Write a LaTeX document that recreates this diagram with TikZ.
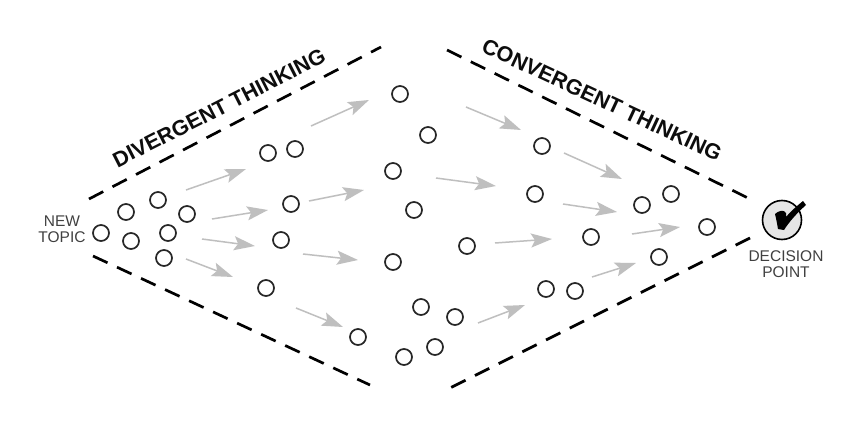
\documentclass[tikz,border=0pt]{standalone}
\usepackage{fontspec}
\setmainfont{Liberation Sans}
\usetikzlibrary{arrows.meta}
\tikzset{
  idea/.style={circle,draw=black!85,line width=1.7pt,minimum size=16pt,inner sep=0pt,fill=white},
  flow/.style={draw=black!25,line width=1.5pt,-{Stealth[length=21pt,width=14pt,inset=4pt,fill=black!25]}},
  edge/.style={draw=black,line width=2.7pt,dash pattern=on 16pt off 10.5pt},
  title/.style={font=\fontsize{21.5}{23}\selectfont\bfseries,text=black!95,inner sep=0pt},
  small/.style={font=\fontsize{15.5}{16}\selectfont,text=black!75,align=center,inner sep=0pt}
}
\begin{document}
\begin{tikzpicture}[x=1pt,y=-1pt]
\useasboundingbox (0,0) rectangle (865,444);
\fill[white] (0,0) rectangle (865,444);
% dashed boundary
\coordinate (tl0) at (89,199); \coordinate (tl1) at (381,47);
\coordinate (bl0) at (93,256); \coordinate (bl1) at (370,385);
\coordinate (tr0) at (447,50); \coordinate (tr1) at (748,198);
\coordinate (br0) at (750,238); \coordinate (br1) at (450,388);
\draw[edge] (tl0) -- (tl1);
\draw[edge] (bl0) -- (bl1);
\draw[edge] (tr0) -- (tr1);
\draw[edge] (br0) -- (br1);
% circles
\foreach \n/\x/\y in {a1/101/233,a2/126/212,a3/131/241,a4/158/200,a5/168/233,a6/187/214,a7/164/258,
  b1/268/153,b2/295/149,b3/291/204,b4/281/240,b5/266/288,b6/358/337,
  c1/400/94,c2/428/135,c3/393/171,c4/414/210,c5/393/262,c6/421/307,c7/455/317,c8/435/347,c9/404/357,c10/467/246,
  d1/542/146,d2/535/194,d3/591/237,d4/546/289,d5/575/291,
  e1/642/205,e2/671/194,e3/659/257,e4/707/227}
  \node[idea] (\n) at (\x,\y) {};
% arrows
\foreach \n/\xa/\ya/\xb/\yb in {1/186/190/246/169,2/212/219/268/210,3/202/239/255/246,4/186/259/233/277,
  5/296/308/343/327,6/303/254/358/260,7/309/201/364/190,8/311/126/369/100,
  9/466/107/521/130,10/436/178/496/186,11/495/243/552/239,12/478/323/525/305,
  13/564/153/622/179,14/563/204/617/212,15/632/234/680/227,16/592/277/636/263}{
  \coordinate (s\n) at (\xa,\ya);
  \coordinate (t\n) at (\xb,\yb);
  \draw[flow] (s\n) -- (t\n);
}
% labels
\node[small] (newtopic) at (62,229) {NEW\\TOPIC};
\node[small] (decision) at (786,264) {DECISION\\POINT};
\node[title,rotate=27] (div) at (219,108) {DIVERGENT THINKING};
\node[title,rotate=-25] (con) at (602,100) {CONVERGENT THINKING};
% decision point
\node[circle,draw=black,line width=1.6pt,fill=black!10,minimum size=39pt,inner sep=0pt] (check) at (782,220) {};
\fill[black] (775,214) .. controls (778,211) and (784,209) .. (786,213) -- (786,217)
  .. controls (791,211) and (798,205) .. (803,201) -- (806,205)
  .. controls (797,213) and (789,222) .. (784,230) -- (778,229)
  .. controls (777,223) and (776,218) .. (775,214) -- cycle;
\end{tikzpicture}
\end{document}
